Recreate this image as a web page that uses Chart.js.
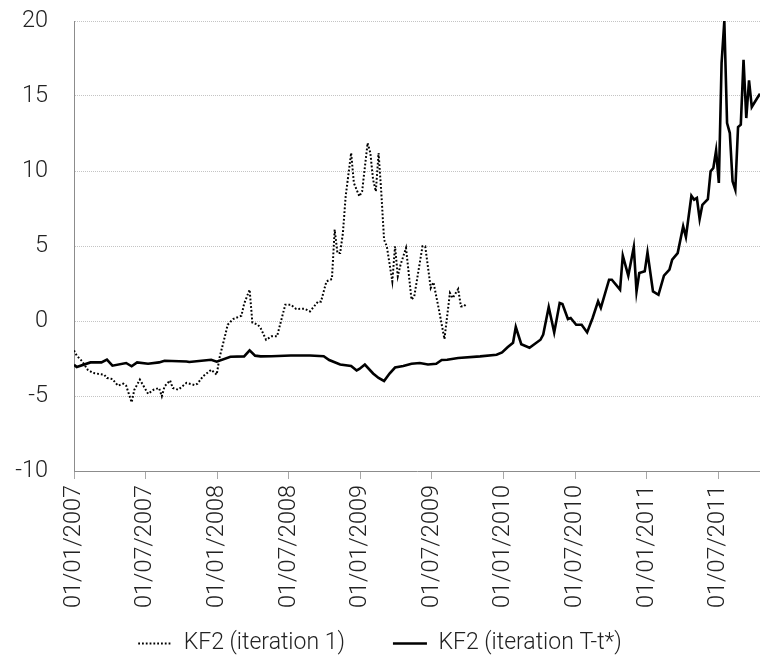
<!DOCTYPE html>
<html>
<head>
<meta charset="utf-8">
<title>KF2 iterations</title>
<script src="https://cdn.jsdelivr.net/npm/chart.js@4.4.1/dist/chart.umd.min.js"></script>
<style>
    html, body { margin: 0; padding: 0; background: #fff; }
</style>
</head>
<body>
<canvas id="kfChart" width="760" height="667"></canvas>
<script>
//--- Data (weekly, week 0 = first week of January 2007)
var iterOneWeeks = [0, 1, 3, 5, 7, 11, 12, 14, 16, 18, 19, 21, 22, 24, 27, 29, 31, 32, 33, 35, 36, 38, 41, 44, 45, 47, 50, 52, 53, 55,
    56, 58, 61, 62, 64, 65, 67, 68, 70, 72, 74, 77, 79, 81, 84, 86, 89, 90, 92, 94, 95, 96, 97, 98, 99, 101, 102, 104, 105, 107,
    108, 109, 110, 111, 112, 113, 114, 116, 117, 118, 119, 121, 123, 124, 127, 128, 130, 131, 133, 135, 137, 138, 140, 141, 142, 143];
var iterOneValues = [-1.96, -2.31, -2.69, -3.25, -3.47, -3.58, -3.8, -3.87, -4.31, -4.18, -4.31, -5.42, -4.58, -3.91, -4.85, -4.58, -4.47, -5.02, -4.36, -3.96, -4.47, -4.58, -4.13, -4.27, -4.18, -3.69, -3.25, -3.58, -2.47, -1.02,
    -0.25, 0.13, 0.35, 1.15, 2.09, -0.1, -0.25, -0.47, -1.25, -1.02, -1.02, 1.09, 1.09, 0.8, 0.82, 0.64, 1.31, 1.29, 2.64, 2.8, 6.09, 4.53, 4.53, 5.87, 8.31, 11.2, 9.2, 8.31, 8.64, 11.87,
    11.2, 9.42, 8.64, 11.2, 8.53, 5.42, 4.98, 2.64, 4.98, 2.98, 3.75, 4.87, 1.42, 1.64, 4.98, 4.98, 2.2, 2.58, 0.75, -1.2, 1.87, 1.53, 2.13, 0.98, 0.96, 1.15];

var iterTWeeks = [0, 1, 6, 10, 12, 14, 19, 21, 23, 27, 31, 33, 41, 42, 50, 52, 57, 62, 64, 66, 68, 72, 79, 86, 91, 93, 97, 101, 103, 104,
    106, 109, 111, 113, 115, 117, 120, 123, 126, 129, 132, 134, 136, 140, 148, 154, 156, 158, 160, 161, 163, 166, 170, 171, 173, 175, 177, 178, 180, 181,
    183, 185, 187, 189, 191, 192, 195, 196, 199, 200, 202, 204, 205, 206, 208, 209, 211, 213, 215, 217, 218, 220, 222, 223, 225, 226, 227, 228, 229, 231,
    232, 233, 234, 235, 236, 237, 238, 239, 240, 241, 242, 243, 244, 245, 246, 247, 249, 250];
var iterTValues = [-2.91, -3.07, -2.76, -2.76, -2.58, -2.98, -2.8, -3.02, -2.76, -2.85, -2.76, -2.65, -2.7, -2.73, -2.58, -2.71, -2.38, -2.36, -1.96, -2.31, -2.36, -2.35, -2.3, -2.3, -2.35, -2.6, -2.9, -3.0, -3.3, -3.2,
    -2.9, -3.5, -3.8, -4.0, -3.5, -3.1, -3.0, -2.85, -2.8, -2.9, -2.85, -2.6, -2.58, -2.47, -2.36, -2.25, -2.1, -1.75, -1.45, -0.4, -1.55, -1.78, -1.25, -0.9, 0.93, -0.76, 1.2, 1.13, 0.13, 0.2,
    -0.25, -0.25, -0.76, 0.2, 1.31, 0.87, 2.75, 2.75, 2.09, 4.35, 3.02, 4.93, 1.97, 3.2, 3.31, 4.57, 1.97, 1.75, 3.02, 3.42, 4.09, 4.53, 6.31, 5.6, 8.35, 8.09, 8.2, 6.8, 7.75, 8.13,
    9.98, 10.2, 11.37, 9.2, 17.2, 20.0, 13.2, 12.53, 9.31, 8.75, 12.93, 13.09, 17.42, 13.53, 16.04, 14.27, 14.87, 15.15];

var tickLabels = ['01/01/2007', '01/07/2007', '01/01/2008', '01/07/2008', '01/01/2009',
    '01/07/2009', '01/01/2010', '01/07/2010', '01/01/2011', '01/07/2011'];
var seriesNames = ['KF2 (iteration 1)', 'KF2 (iteration T-t*)'];
var weeksPerHalfYear = 52.18 / 2;

//--- Helpers
function toPoints(weeks, values) {
    var pts = [];
    for (var i = 0; i < weeks.length; i++) {
        pts.push({ x: weeks[i], y: values[i] });
    }
    return pts;
}

// legend items: keep the dash and width of the line, extra room after the first entry
function legendLabels(chart) {
    var items = Chart.defaults.plugins.legend.labels.generateLabels(chart);
    items.forEach(function (item, i) {
        var ds = chart.data.datasets[item.datasetIndex];
        item.lineDash = ds.borderDash || [];
        item.lineWidth = ds.borderWidth;
        item.strokeStyle = ds.borderColor;
        if (i === 0) item.text = item.text + '     ';
    });
    return items;
}

var fontFamily = "'Helvetica Neue', Roboto, 'Liberation Sans', sans-serif";
var axisFont = { family: fontFamily, size: 23.5, weight: '300' };
var legendFont = { family: fontFamily, size: 23, weight: '300' };

var config = {
    type: 'line',
    data: {
        datasets: [{
            label: seriesNames[0],
            data: toPoints(iterOneWeeks, iterOneValues),
            borderColor: '#000',
            backgroundColor: '#000',
            borderWidth: 2,
            borderDash: [1.8, 2],
            pointRadius: 0,
            tension: 0,
            fill: false
        },
        {
            label: seriesNames[1],
            data: toPoints(iterTWeeks, iterTValues),
            borderColor: '#000',
            backgroundColor: '#000',
            borderWidth: 2.6,
            pointRadius: 0,
            tension: 0,
            fill: false
        }]
    },
    options: {
        responsive: false,
        animation: false,
        layout: { padding: { top: 21, right: 0, bottom: 2, left: 0 } },
        plugins: {
            tooltip: { enabled: false },
            legend: {
                position: 'bottom',
                labels: {
                    usePointStyle: true,
                    pointStyle: 'line',
                    pointStyleWidth: 34,
                    padding: 20,
                    color: '#222',
                    font: legendFont,
                    generateLabels: legendLabels
                }
            }
        },
        scales: {
            x: {
                type: 'linear',
                min: 0,
                max: 250,
                afterBuildTicks: function (scale) {
                    scale.ticks = tickLabels.map(function (lbl, i) { return { value: i * weeksPerHalfYear }; });
                },
                afterFit: function (scale) { scale.height = 141; },
                ticks: {
                    autoSkip: false,
                    minRotation: 90,
                    maxRotation: 90,
                    padding: 6,
                    color: '#222',
                    font: axisFont,
                    callback: function (value, index) { return tickLabels[index]; }
                },
                grid: {
                    drawOnChartArea: false,
                    drawTicks: true,
                    tickLength: 8,
                    tickColor: '#a8a8a8'
                },
                border: { display: true, color: '#8c8c8c', width: 1 }
            },
            y: {
                min: -10,
                max: 20,
                afterFit: function (scale) { scale.width = 74; },
                ticks: {
                    stepSize: 5,
                    padding: 0,
                    color: '#222',
                    font: axisFont
                },
                grid: {
                    drawTicks: true,
                    tickLength: 26,
                    tickColor: 'rgba(0,0,0,0)',
                    lineWidth: 1,
                    color: function (ctx) {
                        return ctx.tick && ctx.tick.value === -10 ? 'rgba(0,0,0,0)' : '#c4c4c4';
                    }
                },
                border: { display: true, color: '#8c8c8c', width: 1, dash: [1, 1] }
            }
        }
    }
};

new Chart(document.getElementById('kfChart'), config);
</script>
</body>
</html>
